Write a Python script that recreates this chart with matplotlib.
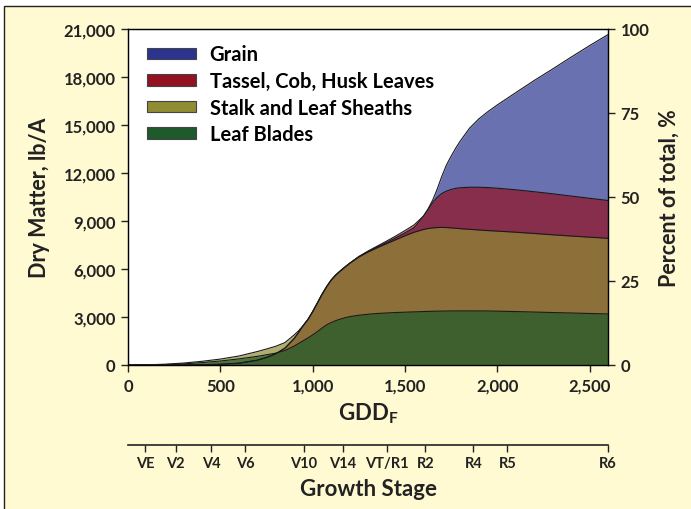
import matplotlib.pyplot as plt
from matplotlib.patches import Rectangle, Patch

plt.rcParams['font.family'] = ['Lato', 'DejaVu Sans']

gdd = [0, 100, 200, 300, 400, 500, 600, 700, 750, 800, 850, 900, 925, 950, 975,
       1000, 1025, 1050, 1075, 1100, 1125, 1150, 1175, 1200, 1250, 1300, 1350, 1400,
       1450, 1500, 1550, 1600, 1625, 1650, 1675, 1700, 1725, 1750, 1775, 1800, 1850,
       1900, 1950, 2000, 2100, 2200, 2300, 2400, 2500, 2600]

# cumulative dry matter, lb/A (top edge of each band)
leaf_blades = [0, 5, 25, 70, 150, 250, 380, 540, 640, 740, 900, 1180, 1350, 1520, 1690,
               1880, 2080, 2300, 2500, 2650, 2770, 2870, 2950, 3020, 3110, 3170, 3220, 3250,
               3280, 3300, 3320, 3340, 3350, 3360, 3365, 3370, 3375, 3375, 3380, 3380, 3380,
               3380, 3375, 3365, 3340, 3310, 3280, 3250, 3220, 3190]
stalk_sheaths = [0, 10, 50, 120, 230, 370, 560, 840, 1000, 1170, 1400, 1880, 2150, 2480, 2850,
                 3330, 3860, 4400, 4880, 5300, 5620, 5880, 6120, 6350, 6750, 7060, 7330, 7580,
                 7830, 8080, 8300, 8470, 8530, 8570, 8590, 8600, 8590, 8570, 8550, 8520, 8480,
                 8440, 8400, 8370, 8300, 8220, 8140, 8060, 7990, 7920]
tassel_cob_husk = [0, 0, 5, 10, 20, 45, 110, 300, 470, 700, 1050, 1650, 2050, 2480, 2850,
                   3330, 3860, 4400, 4880, 5300, 5620, 5880, 6120, 6350, 6780, 7120, 7430, 7740,
                   8060, 8400, 8760, 9300, 9700, 10150, 10480, 10720, 10870, 10970, 11040, 11080, 11110,
                   11110, 11090, 11050, 10950, 10830, 10700, 10560, 10420, 10280]
grain = [0, 0, 5, 10, 20, 45, 110, 300, 470, 700, 1050, 1650, 2050, 2480, 2850,
         3330, 3860, 4400, 4880, 5300, 5620, 5880, 6120, 6350, 6760, 7090, 7380, 7660,
         7950, 8250, 8580, 9300, 9750, 10300, 11000, 11800, 12500, 13050, 13550, 14000, 14800,
         15380, 15840, 16250, 17020, 17780, 18500, 19240, 19960, 20650]

labels = ["Grain", "Tassel, Cob, Husk Leaves", "Stalk and Leaf Sheaths", "Leaf Blades"]
colors = ["#2b3590", "#921222", "#8f8c32", "#1e5a2c"]

stages = ["VE", "V2", "V4", "V6", "V10", "V14", "VT/R1", "R2", "R4", "R5", "R6"]
stage_gdd = [92, 258, 450, 634, 953, 1163, 1401, 1610, 1871, 2055, 2600]

yticks = [0, 3000, 6000, 9000, 12000, 15000, 18000, 21000]
xticks = [0, 500, 1000, 1500, 2000, 2500]
pct_ticks = [0, 25, 50, 75, 100]

bg = "#fffad2"
ink = "#222222"
fig = plt.figure(figsize=(6.91, 5.10), dpi=100)
fig.patch.set_facecolor("white")
# yellow panel with border on top/left
fig.patches.append(Rectangle((4 / 691, -0.05), 1.1, 1.05 - 7 / 510, transform=fig.transFigure,
                             facecolor=bg, edgecolor=ink, linewidth=1.0, zorder=-10))

ax = fig.add_axes([128 / 691, 144 / 510, 480 / 691, 336 / 510])
ax.set_facecolor("white")

# each band filled from 0 with transparency, grain first, leaf blades last
curves = [grain, tassel_cob_husk, stalk_sheaths, leaf_blades]
for c, col in zip(curves, colors):
    ax.fill_between(gdd, 0, c, color=col, alpha=0.7, linewidth=0)
for c in curves:
    ax.plot(gdd, c, color="#1a1a1a", linewidth=0.8, solid_joinstyle="round")

ax.set_xlim(0, 2600)
ax.set_ylim(0, 21000)
ax.set_xticks(xticks)
ax.set_xticklabels([f"{v:,}" for v in xticks])
ax.set_yticks(yticks)
ax.set_yticklabels([f"{v:,}" for v in yticks])
ax.tick_params(labelsize=12, length=5, width=1, colors=ink, pad=4)
for lab in ax.get_xticklabels() + ax.get_yticklabels():
    lab.set_fontweight("bold")
for s in ax.spines.values():
    s.set_linewidth(1.0)
    s.set_color(ink)
ax.set_ylabel("Dry Matter, lb/A", fontsize=15.5, fontweight="bold", color=ink, labelpad=10)
ax.set_xlabel("GDD$_\\mathregular{F}$", fontsize=16, fontweight="bold", color=ink, labelpad=5)

# percent axis on the right
ax2 = ax.twinx()
ax2.set_ylim(0, 100)
ax2.set_yticks(pct_ticks)
ax2.tick_params(labelsize=12, length=5, width=1, colors=ink, pad=4)
for lab in ax2.get_yticklabels():
    lab.set_fontweight("bold")
ax2.set_ylabel("Percent of total, %", fontsize=15.5, fontweight="bold", color=ink, labelpad=7)

handles = [Patch(facecolor=col, edgecolor="#444444", linewidth=0.8) for col in colors]
ax.legend(handles, labels, loc="upper left", bbox_to_anchor=(0.015, 0.99), frameon=False,
          prop={"size": 14.5, "weight": "bold"}, handlelength=2.4, handleheight=0.5,
          handletextpad=0.7, labelspacing=0.33, borderaxespad=0.2)

# growth stage axis below
ax3 = fig.add_axes([128 / 691, 64 / 510, 480 / 691, 0.0001])
ax3.set_facecolor("none")
for k in ["top", "left", "right"]:
    ax3.spines[k].set_visible(False)
ax3.spines["bottom"].set_linewidth(1.2)
ax3.spines["bottom"].set_color(ink)
ax3.set_xlim(0, 2600)
ax3.set_yticks([])
ax3.set_xticks(stage_gdd)
ax3.set_xticklabels(stages)
ax3.tick_params(axis="x", labelsize=10.5, length=5, width=1, colors=ink, pad=3)
for lab in ax3.get_xticklabels():
    lab.set_fontweight("bold")
ax3.set_xlabel("Growth Stage", fontsize=16, fontweight="bold", color=ink, labelpad=6)

plt.savefig("out.png", dpi=100, facecolor=fig.get_facecolor())
